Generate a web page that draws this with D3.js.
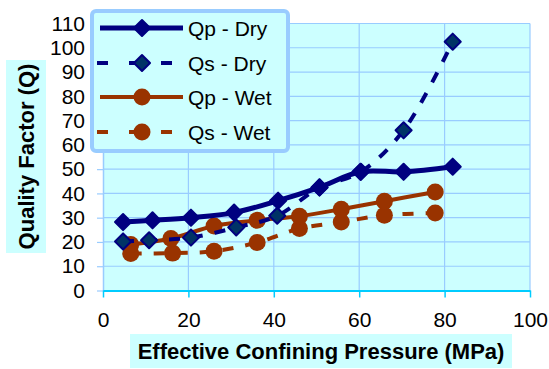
<!DOCTYPE html>
<html>
<head>
<meta charset="utf-8">
<script src="https://cdn.jsdelivr.net/npm/d3@7"></script>
<style>
	body { margin: 0; background: #fff; }
	text { font-family: Arial, "Liberation Sans", sans-serif; }
</style>
</head>
<body>
<svg id="chart"></svg>
<script>
// pressure (MPa) and quality factor per series
let qpDryX = [4.7, 11.6, 20.6, 30.7, 41, 50.7, 60.3, 70.4, 81.9];
let qpDryY = [28.2, 28.9, 30, 32.1, 37, 42.5, 48.9, 48.9, 51];
let qsDryX = [4.7, 10.8, 20.6, 31.2, 40.8, 50.7, 60.4, 70.4, 81.9];
let qsDryY = [20.2, 20.7, 21.8, 26, 30.8, 42.4, 48.9, 66, 102.5];
let qpWetX = [6.5, 15.9, 26, 36.1, 46, 55.8, 65.9, 77.8];
let qpWetY = [18.9, 21.4, 26.6, 28.9, 30.6, 33.5, 36.8, 40.6];
let qsWetX = [6.5, 16.3, 26, 36.1, 46, 55.8, 65.9, 77.8];
let qsWetY = [15.2, 15.4, 16.2, 19.8, 25.5, 28.2, 31, 31.9];

let seriesNames = ['Qp - Dry', 'Qs - Dry', 'Qp - Wet', 'Qs - Wet'];
let xTicks = [0, 20, 40, 60, 80, 100];
let yTicks = [0, 10, 20, 30, 40, 50, 60, 70, 80, 90, 100, 110];

let w = 549, h = 369;
let plotLeft = 103, plotRight = 530, plotTop = 23.5, plotBottom = 290.5;

let zip = (xs, ys) => xs.map((x, i) => ({ x: x, y: ys[i] }));

// style for each series
let series = [
	{ name: seriesNames[0], data: zip(qpDryX, qpDryY), color: '#000080', fill: '#000080', dash: null, shape: 'diamond', width: 5 },
	{ name: seriesNames[1], data: zip(qsDryX, qsDryY), color: '#000080', fill: '#003366', dash: '11,12', shape: 'diamond', width: 4 },
	{ name: seriesNames[2], data: zip(qpWetX, qpWetY), color: '#993300', fill: '#993300', dash: null, shape: 'circle', width: 4 },
	{ name: seriesNames[3], data: zip(qsWetX, qsWetY), color: '#993300', fill: '#993300', dash: '11,12', shape: 'circle', width: 4 }
];

let chart = d3.select('#chart')
	.attr('width', w)
	.attr('height', h);

let xScale = d3.scaleLinear().domain([0, 100]).range([plotLeft, plotRight]);
let yScale = d3.scaleLinear().domain([0, 110]).range([plotBottom, plotTop]);

// plot area
chart.append('rect')
	.attr('x', plotLeft).attr('y', plotTop)
	.attr('width', plotRight - plotLeft).attr('height', plotBottom - plotTop)
	.attr('fill', '#ccffff');

// gridlines
chart.append('g')
	.selectAll('line')
	.data(yTicks.slice(1))
	.enter()
	.append('line')
	.attr('x1', plotLeft).attr('x2', plotRight)
	.attr('y1', (d) => yScale(d)).attr('y2', (d) => yScale(d))
	.attr('stroke', '#99ccff').attr('stroke-width', 1.2);

chart.append('g')
	.selectAll('line')
	.data(xTicks.slice(1))
	.enter()
	.append('line')
	.attr('x1', (d) => xScale(d)).attr('x2', (d) => xScale(d))
	.attr('y1', plotTop).attr('y2', plotBottom)
	.attr('stroke', '#99ccff').attr('stroke-width', 1.2);

// AXES
let yAxis = d3.axisLeft(yScale).tickValues(yTicks).tickSize(6).tickPadding(12).tickSizeOuter(0);
let yAxisGroup = chart.append('g')
	.attr('transform', `translate(${plotLeft},0)`)
	.call(yAxis);
yAxisGroup.select('.domain').attr('stroke', '#99ccff').attr('stroke-width', 1.5);
yAxisGroup.selectAll('.tick line').attr('stroke', '#99ccff').attr('stroke-width', 1.2);
yAxisGroup.selectAll('.tick text').attr('font-size', 21).attr('fill', '#000')
	.style('font-family', 'Arial, "Liberation Sans", sans-serif');

let xAxis = d3.axisBottom(xScale).tickValues(xTicks).tickSize(7).tickPadding(15).tickSizeOuter(0);
let xAxisGroup = chart.append('g')
	.attr('transform', `translate(0,${plotBottom})`)
	.call(xAxis);
xAxisGroup.select('.domain').attr('stroke', '#00ccff').attr('stroke-width', 2);
xAxisGroup.selectAll('.tick line').attr('stroke', '#00ccff').attr('stroke-width', 1.5);
xAxisGroup.selectAll('.tick text').attr('font-size', 21).attr('fill', '#000')
	.style('font-family', 'Arial, "Liberation Sans", sans-serif');

// lines, Excel style smoothing
let line = d3.line()
	.x((d) => xScale(d.x))
	.y((d) => yScale(d.y))
	.curve(d3.curveCatmullRom.alpha(0.5));

let diamond = d3.symbol().type(d3.symbolDiamond2).size(165);

function drawMarker(g, s, x, y) {
	if (s.shape == 'diamond') {
		g.append('path')
			.attr('d', diamond())
			.attr('transform', `translate(${x},${y})`)
			.attr('fill', s.fill)
			.attr('stroke', s.color)
			.attr('stroke-width', 2)
			.attr('stroke-linejoin', 'round');
	} else {
		g.append('circle')
			.attr('cx', x).attr('cy', y).attr('r', 8.5)
			.attr('fill', s.fill);
	}
}

series.slice().reverse().forEach((s) => {
	chart.append('path')
		.datum(s.data)
		.attr('d', line)
		.attr('fill', 'none')
		.attr('stroke', s.color)
		.attr('stroke-width', s.width)
		.attr('stroke-dasharray', s.dash);
	let g = chart.append('g');
	s.data.forEach((d) => drawMarker(g, s, xScale(d.x), yScale(d.y)));
});

// LEGEND
chart.append('rect')
	.attr('x', 92).attr('y', 11)
	.attr('width', 196).attr('height', 140)
	.attr('rx', 4)
	.attr('fill', '#ccffff')
	.attr('stroke', '#99ccff')
	.attr('stroke-width', 4);

let legendY = [28, 63, 97, 132];
series.forEach((s, i) => {
	let g = chart.append('g');
	let y = legendY[i];
	g.append('line')
		.attr('x1', s.dash ? 97 : 100).attr('x2', s.dash ? 172 : 183)
		.attr('y1', y).attr('y2', y)
		.attr('stroke', s.color)
		.attr('stroke-width', s.width)
		.attr('stroke-dasharray', s.dash ? '11,21' : null);
	drawMarker(g, s, 142, y);
	g.append('text')
		.attr('x', 188).attr('y', y + 7.5)
		.attr('font-size', 21)
		.text(s.name);
});

// LABELS
chart.append('rect')
	.attr('x', 6).attr('y', 60).attr('width', 40).attr('height', 193)
	.attr('fill', '#ccffff');
chart.append('text')
	.attr('transform', 'rotate(-90)')
	.attr('x', -156.5)
	.attr('y', 34)
	.style('text-anchor', 'middle')
	.attr('font-size', 22)
	.attr('font-weight', 'bold')
	.text('Quality Factor (Q)');

chart.append('rect')
	.attr('x', 130).attr('y', 334).attr('width', 382).attr('height', 34)
	.attr('fill', '#ccffff');
chart.append('text')
	.attr('x', 321)
	.attr('y', 359)
	.style('text-anchor', 'middle')
	.attr('font-size', 22)
	.attr('font-weight', 'bold')
	.text('Effective Confining Pressure (MPa)');
</script>
</body>
</html>
